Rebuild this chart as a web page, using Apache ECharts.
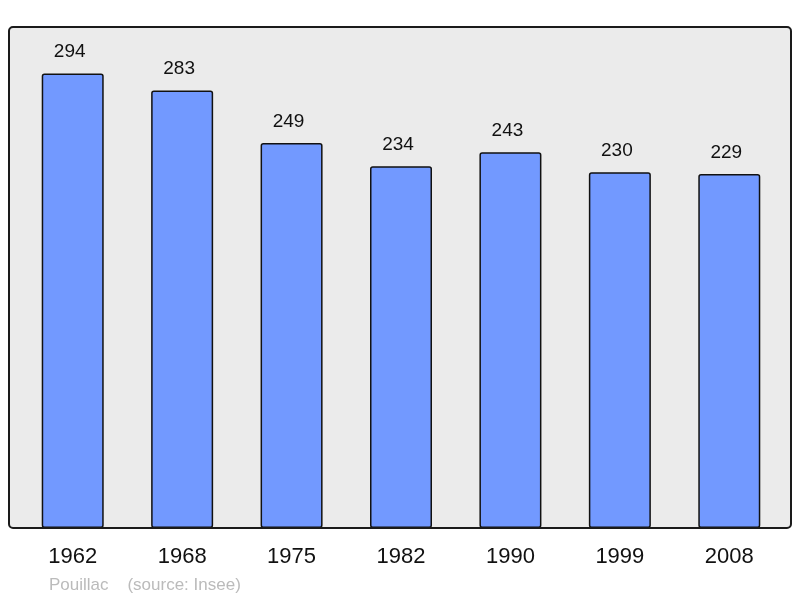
<!DOCTYPE html>
<html><head><meta charset="utf-8">
<script src="https://cdn.jsdelivr.net/npm/echarts@6/dist/echarts.min.js"></script>
<style>html,body{margin:0;padding:0;background:#fff}#c{width:800px;height:598px}</style>
</head><body><div id="c"></div>
<script>
var categories = ['1962','1968','1975','1982','1990','1999','2008'];
var population = [294,283,249,234,243,230,229];
var footer = 'Pouillac    (source: Insee)';

var chart = echarts.init(document.getElementById('c'), null, {renderer:'canvas'});
chart.setOption({
  animation:false,
  backgroundColor:'#ffffff',
  textStyle:{fontFamily:'Liberation Sans, Arial, sans-serif'},
  grid:{left:18, right:16, top:27, bottom:70},
  xAxis:{type:'category', data:categories,
    axisLine:{show:false}, axisTick:{show:false},
    axisLabel:{color:'#111', fontSize:22, margin:18, fontFamily:'Liberation Sans, Arial, sans-serif'}},
  yAxis:{type:'value', min:0, max:324, show:false, splitLine:{show:false}},
  graphic:[
    {type:'rect', shape:{x:9,y:27,width:782,height:501,r:4}, style:{fill:'#ebebeb', stroke:null}, z:-10},
    {type:'rect', shape:{x:9,y:27,width:782,height:501,r:4}, style:{fill:null, stroke:'#1a1a1a', lineWidth:2}, z:100},
    {type:'text', left:49, top:577, style:{text:footer, fill:'#bbbbbb', fontSize:17, fontFamily:'Liberation Sans, Arial, sans-serif'}}
  ],
  series:[{type:'bar', data:population, barWidth:62,
    itemStyle:{color:'#7299ff', borderColor:'#111', borderWidth:1.5, borderRadius:2},
    label:{show:true, position:'top', distance:12, offset:[-3,0], color:'#111', fontSize:19, fontFamily:'Liberation Sans, Arial, sans-serif'}
  }]
});
</script></body></html>
